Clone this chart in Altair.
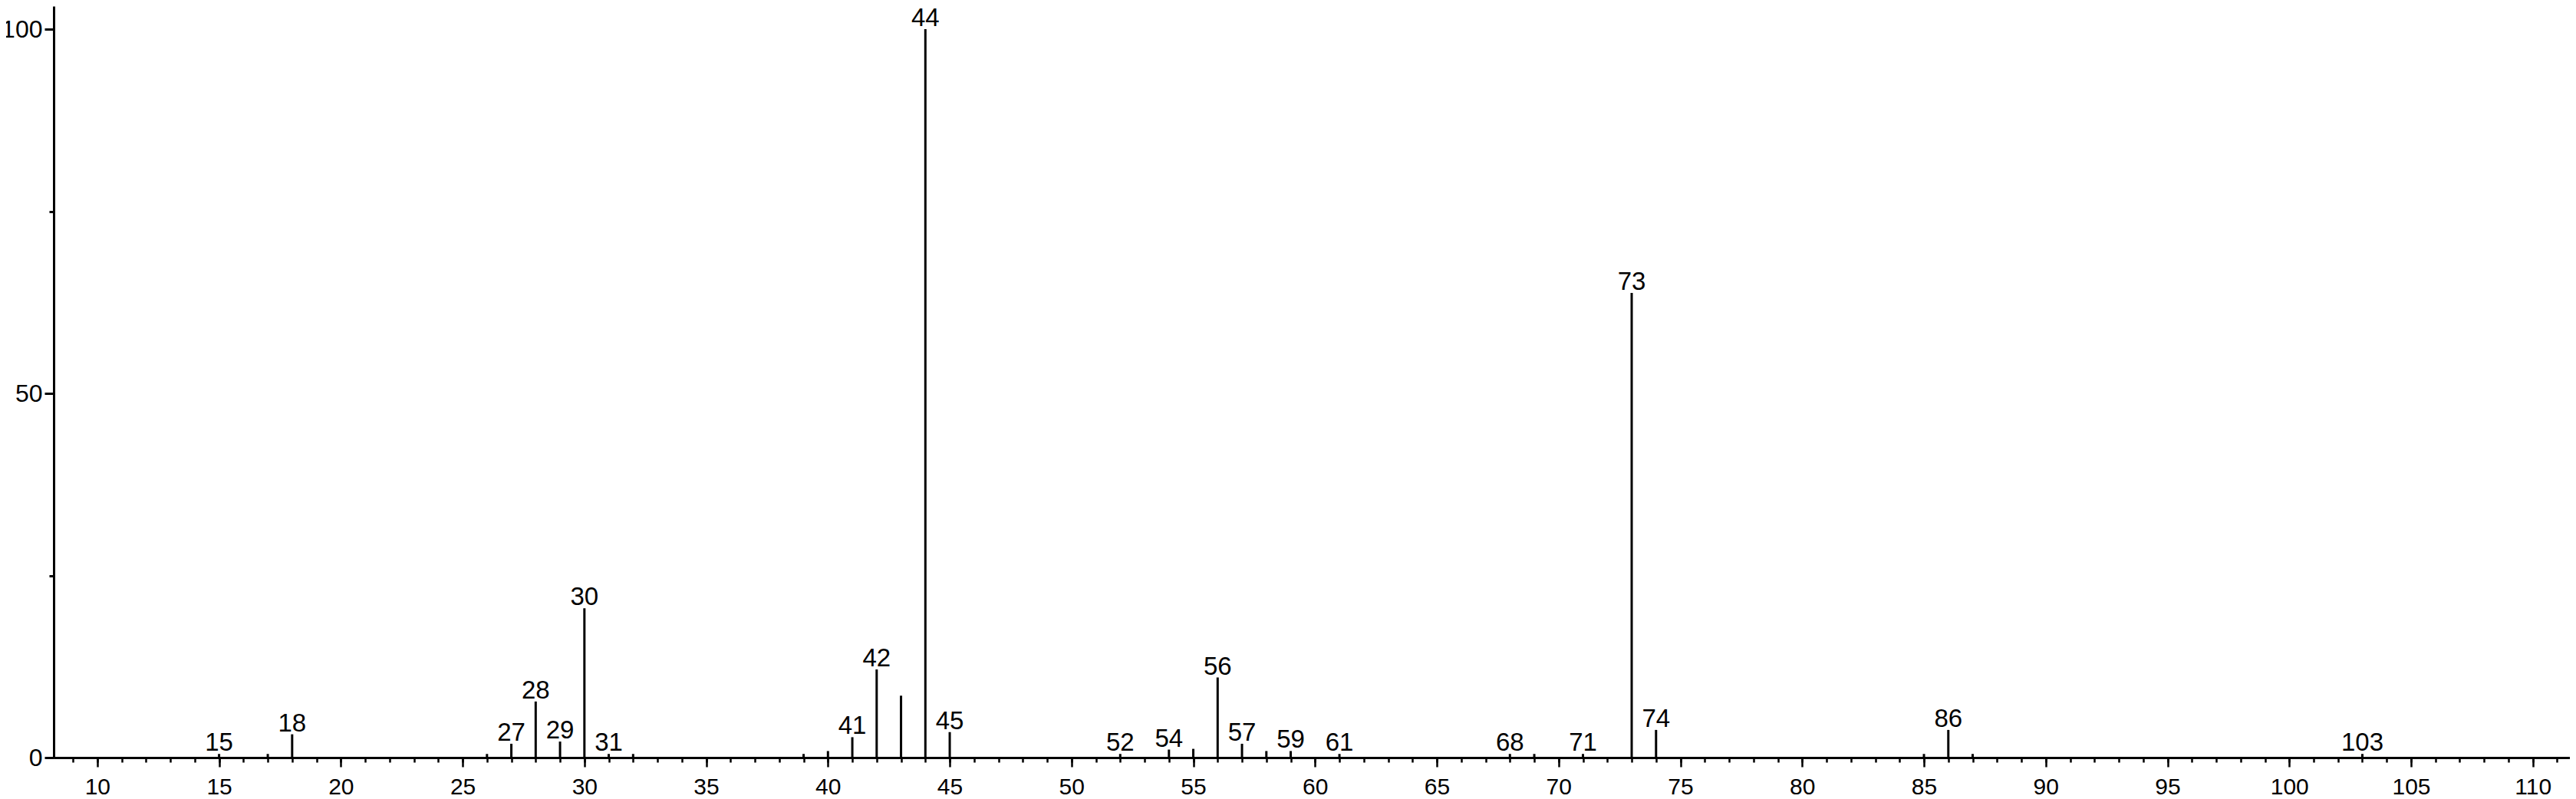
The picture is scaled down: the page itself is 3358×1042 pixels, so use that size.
import altair as alt
import pandas as pd

# m/z values and relative intensities
mz = [15, 17, 18, 26, 27, 28, 29, 30, 31, 32, 39, 40, 41, 42, 43, 44, 45,
      52, 54, 55, 56, 57, 58, 59, 61, 68, 69, 71, 73, 74, 85, 86, 87, 103]
intensity = [0.5, 0.5, 3.2, 0.5, 1.9, 7.7, 2.2, 20.5, 0.5, 0.5, 0.5, 0.9, 2.8, 12.1, 8.5, 100.0, 3.5,
             0.5, 1.1, 1.2, 11.0, 1.9, 0.9, 0.9, 0.5, 0.5, 0.5, 0.5, 63.8, 3.8, 0.5, 3.8, 0.5, 0.5]
labeled = [15, 18, 27, 28, 29, 30, 31, 41, 42, 44, 45, 52, 54, 56, 57, 59, 61,
           68, 71, 73, 74, 86, 103]

x_major = list(range(10, 111, 5))
x_minor = list(range(9, 112))
y_major = [0, 50, 100]
y_minor = [0, 25, 50, 75, 100]

df = pd.DataFrame({"mz": mz, "intensity": intensity})
df["label"] = [str(m) if m in labeled else "" for m in mz]

FONT = "Liberation Sans"
NARROW = "Liberation Sans Narrow, Arial Narrow, Liberation Sans"
xscale = alt.Scale(domain=[8.21, 111.52], nice=False, zero=False)
yscale = alt.Scale(domain=[0, 103.16], nice=False, zero=False)

x_major_axis = alt.Axis(values=x_major, orient="bottom", tickSize=12, tickWidth=2.5,
                        tickColor="black", domainColor="black", domainWidth=3,
                        labelFont=FONT, labelFontSize=30, labelColor="black",
                        labelPadding=11, labelFlush=False, labelOverlap=False,
                        grid=False, title=None)
y_major_axis = alt.Axis(values=y_major, orient="left", tickSize=12, tickWidth=3,
                        tickColor="black", domainColor="black", domainWidth=3,
                        labelFont=NARROW, labelFontSize=32, labelColor="black",
                        labelPadding=3, labelFlush=False, labelOverlap=False,
                        grid=False, title=None)
x_minor_axis = alt.Axis(values=x_minor, orient="bottom", tickSize=6, tickWidth=2.5,
                        tickColor="black", domain=False, labels=False,
                        grid=False, title=None)
y_minor_axis = alt.Axis(values=y_minor, orient="left", tickSize=6, tickWidth=3,
                        tickColor="black", domain=False, labels=False,
                        grid=False, title=None)

base = alt.Chart(df)

sticks = base.mark_rule(color="black", strokeWidth=3).encode(
    x=alt.X("mz:Q", scale=xscale, axis=x_major_axis),
    y=alt.Y("intensity:Q", scale=yscale, axis=y_major_axis),
    y2=alt.datum(0),
)

labels = base.mark_text(font=FONT, fontSize=33, color="black",
                        baseline="alphabetic", align="center", dy=-4).encode(
    x=alt.X("mz:Q", scale=xscale, axis=x_major_axis),
    y=alt.Y("intensity:Q", scale=yscale, axis=y_major_axis),
    text="label:N",
)

minor = base.mark_point(opacity=0).encode(
    x=alt.X("mz:Q", scale=xscale, axis=x_minor_axis),
    y=alt.Y("intensity:Q", scale=yscale, axis=y_minor_axis),
)

main = alt.layer(sticks, labels)

chart = alt.layer(main, minor).resolve_axis(
    x="independent", y="independent"
).properties(
    width=3280,
    height=980,
    autosize=alt.AutoSizeParams(type="none"),
    padding={"left": 62, "top": 0, "right": 0, "bottom": 53},
    background="white",
).configure_view(stroke=None)

chart.save("out.html", embed_options={"renderer": "svg", "actions": False})
